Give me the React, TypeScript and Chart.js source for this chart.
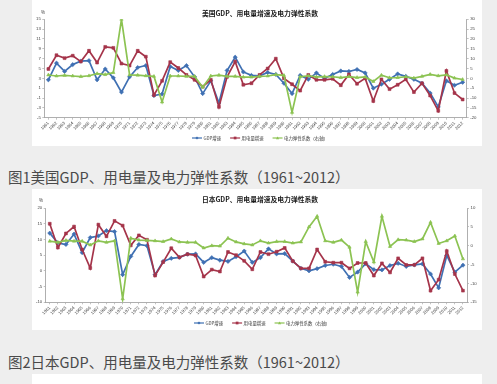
import React, { useEffect, useRef } from "react";
import { Chart, registerables } from "chart.js";

Chart.register(...registerables);

// ---------- data ----------
const years = [
  "1961", "1962", "1963", "1964", "1965", "1966", "1967", "1968", "1969", "1970",
  "1971", "1972", "1973", "1974", "1975", "1976", "1977", "1978", "1979", "1980",
  "1981", "1982", "1983", "1984", "1985", "1986", "1987", "1988", "1989", "1990",
  "1991", "1992", "1993", "1994", "1995", "1996", "1997", "1998", "1999", "2000",
  "2001", "2002", "2003", "2004", "2005", "2006", "2007", "2008", "2009", "2010",
  "2011", "2012",
];

const seriesNames = ["GDP增速", "用电量增速", "电力弹性系数（右轴）"];

// US (figure 1)
const usGdp = [
  2.7, 6.1, 4.4, 5.8, 6.5, 6.6, 2.7, 4.9, 3.1, 0.2,
  3.3, 5.2, 5.6, -0.5, -0.2, 5.4, 4.6, 5.6, 3.3, -0.1,
  2.5, -2.0, 4.6, 7.3, 4.3, 3.6, 3.5, 4.2, 3.8, 2.0,
  -0.1, 3.6, 2.8, 4.1, 3.0, 3.8, 4.5, 4.4, 4.8, 4.1,
  1.0, 1.8, 2.8, 3.9, 3.4, 2.8, 2.0, 0.0, -2.8, 2.5,
  1.6, 2.2,
];
const usElec = [
  4.9, 7.7, 7.1, 7.6, 6.4, 8.6, 6.2, 9.4, 9.2, 6.0,
  5.6, 8.6, 7.4, -0.4, 2.5, 6.3, 5.1, 3.7, 2.7, 1.3,
  2.7, -2.8, 3.3, 6.4, 1.7, 2.0, 3.7, 5.0, 7.0, 3.0,
  1.8, 0.5, 3.7, 2.7, 2.7, 2.9, 1.6, 3.8, 1.9, 3.0,
  -1.6, 2.8, 0.8, 1.7, 2.8, 0.2, 2.0, -0.5, -3.6, 4.5,
  0.0, -1.3,
];
const usElas = [
  1.7, 1.2, 1.5, 1.2, 0.9, 1.3, 2.4, 1.9, 2.9, 30,
  1.7, 1.6, 1.3, 1.0, -12.0, 1.2, 1.2, 1.0, 1.0, -4.5,
  1.2, 1.6, 1.0, 1.0, 0.6, 0.6, 1.0, 1.2, 1.9, 1.5,
  -17.3, 0.8, 1.3, 0.7, 0.9, 0.8, 0.4, 0.9, 0.4, 0.7,
  -1.6, 1.6, 0.3, 0.4, 0.8, 0.1, 1.0, 2.0, 1.3, 1.8,
  0.1, -0.6,
];
const usLeftTicks = [-5, -3, -1, 1, 3, 5, 7, 9, 11, 13, 15];
const usRightTicks = [-20, -15, -10, -5, 0, 5, 10, 15, 20, 25, 30];

// Japan (figure 2)
const jpGdp = [
  12.0, 8.9, 8.4, 11.7, 5.8, 10.6, 11.1, 12.8, 12.5, -1.2,
  4.6, 8.4, 8.0, -1.2, 3.0, 4.0, 4.3, 5.3, 5.4, 2.7,
  4.2, 3.4, 3.0, 4.5, 6.3, 2.7, 4.2, 7.0, 5.4, 5.5,
  3.1, 0.8, 0.0, 0.7, 1.7, 2.1, 1.4, -2.1, -0.4, 2.3,
  0.4, 0.3, 1.7, 2.4, 1.4, 1.9, 2.2, -1.0, -5.4, 4.9,
  -0.4, 1.8,
];
const jpElec = [
  15.0, 7.4, 11.9, 14.1, 6.8, 0.9, 14.7, 11.0, 15.9, 14.4,
  8.1, 11.3, 9.9, -1.5, 2.8, 7.2, 4.3, 5.3, 4.9, -1.8,
  0.4, -0.2, 6.0, 5.0, 3.2, 0.5, 6.0, 5.3, 6.1, 7.3,
  3.1, 0.8, 0.8, 6.8, 2.9, 2.6, 2.6, 0.8, 2.5, 2.5,
  -1.5, 2.4, -0.5, 4.0, 1.9, 1.9, 4.0, -6.3, -2.8, 6.3,
  -1.0, -6.3,
];
const jpElas = [
  1.2, 0.9, 1.4, 1.2, 1.2, 0.2, 1.3, 0.9, 1.3, -14.1,
  2.0, 1.5, 1.4, 1.3, 1.1, 1.8, 1.0, 0.9, 0.9, -0.6,
  0.0, -0.1, 2.0, 1.0, 0.5, 0.2, 1.3, 0.7, 1.1, 1.1,
  0.7, 1.0, 5.0, 7.8, 1.3, 0.9, 1.5, -0.4, -12.3, 1.1,
  -4.3, 7.8, -0.2, 1.6, 1.5, 1.1, 1.8, 6.2, 0.6, 1.3,
  2.6, -3.5,
];
const jpLeftTicks = [-10, -5, 0, 5, 10, 15, 20];
const jpRightTicks = [-15, -10, -5, 0, 5, 10];

const usTitle = "美国GDP、用电量增速及电力弹性系数";
const jpTitle = "日本GDP、用电量增速及电力弹性系数";
const caption1 = "图1美国GDP、用电量及电力弹性系数（1961~2012）";
const caption2 = "图2日本GDP、用电量及电力弹性系数（1961~2012）";
const unitLabel = "%";

// ---------- styles ----------
const BLUE = "#3F70B3";
const RED = "#A5344A";
const GREEN = "#8CC352";
const AXIS = "#9a9a9a";
const TICK = "#444";
const CJK = '"Noto Sans CJK SC", "Noto Sans", sans-serif';
const TICK_FONT = '"Liberation Sans", "DejaVu Sans", sans-serif';

function drawMarker(ctx: CanvasRenderingContext2D, style: string, x: number, y: number, r: number, color: string) {
  ctx.fillStyle = color;
  ctx.beginPath();
  if (style === "rectRot") {
    ctx.moveTo(x, y - r); ctx.lineTo(x + r, y); ctx.lineTo(x, y + r); ctx.lineTo(x - r, y);
  } else if (style === "triangle") {
    ctx.moveTo(x, y - r); ctx.lineTo(x + r, y + r * 0.8); ctx.lineTo(x - r, y + r * 0.8);
  } else {
    ctx.rect(x - r * 0.85, y - r * 0.85, r * 1.7, r * 1.7);
  }
  ctx.closePath();
  ctx.fill();
}

const overlayPlugin = {
  id: "overlay",
  afterDraw(chart: any, _args: any, opts: any) {
    const ctx: CanvasRenderingContext2D = chart.ctx;
    ctx.save();
    ctx.fillStyle = "#1a1a1a";
    ctx.textBaseline = "middle";
    ctx.textAlign = "center";
    ctx.font = `bold ${opts.titleSize}px ${CJK}`;
    ctx.fillText(opts.title, opts.titleX, opts.titleY);
    ctx.textAlign = "left";
    ctx.font = `4.5px ${TICK_FONT}`;
    ctx.fillStyle = TICK;
    ctx.fillText(unitLabel, opts.pctX, opts.pctY);
    // legend
    let x = opts.legendX;
    const y = opts.legendY;
    ctx.font = `4.4px ${CJK}`;
    chart.data.datasets.forEach((ds: any) => {
      ctx.strokeStyle = ds.borderColor;
      ctx.lineWidth = 1.2;
      ctx.beginPath();
      ctx.moveTo(x, y);
      ctx.lineTo(x + 10, y);
      ctx.stroke();
      drawMarker(ctx, ds.pointStyle, x + 5, y, 1.6, ds.borderColor);
      ctx.fillStyle = "#333";
      ctx.fillText(ds.label, x + 11.5, y + 0.3);
      x += 11.5 + ctx.measureText(ds.label).width + 9;
    });
    ctx.restore();
  },
};

type Props = {
  gdp: number[];
  elec: number[];
  elas: number[];
  leftTicks: number[];
  rightTicks: number[];
  title: string;
  width: number;
  height: number;
  plot: { left: number; right: number; top: number; bottom: number };
  overlay: any;
};

function ComboChart(p: Props) {
  const ref = useRef<HTMLCanvasElement>(null);
  useEffect(() => {
    const step = (t: number[]) => t[1] - t[0];
    const mk = (label: string, data: number[], color: string, style: string, axis: string, order: number, r: number) => ({
      label,
      data,
      yAxisID: axis,
      borderColor: color,
      backgroundColor: color,
      borderWidth: 1.7,
      pointStyle: style,
      pointRadius: r,
      pointBorderWidth: 0.6,
      pointBorderColor: color,
      pointBackgroundColor: color,
      tension: 0,
      order,
    });
    const tickFont = { size: 4.3, family: TICK_FONT };
    const chart = new Chart(ref.current as HTMLCanvasElement, {
      type: "line",
      data: {
        labels: years,
        datasets: [
          mk(seriesNames[0], p.gdp, BLUE, "rectRot", "y", 3, 2.1),
          mk(seriesNames[1], p.elec, RED, "rect", "y", 2, 2.0),
          mk(seriesNames[2], p.elas, GREEN, "triangle", "y1", 1, 1.9),
        ],
      },
      options: {
        animation: false,
        responsive: false,
        maintainAspectRatio: false,
        layout: { padding: { top: p.plot.top, left: 0, right: 0, bottom: 0 } },
        plugins: {
          legend: { display: false },
          tooltip: { enabled: false },
          title: { display: false },
          overlay: { ...p.overlay, title: p.title },
        } as any,
        scales: {
          x: {
            type: "category",
            offset: true,
            grid: { display: true, drawOnChartArea: false, drawTicks: true, tickLength: 2, color: AXIS, lineWidth: 0.6 },
            border: { display: true, color: AXIS, width: 0.8 },
            ticks: { autoSkip: false, maxRotation: 45, minRotation: 45, font: tickFont, color: TICK, padding: 1 },
            afterFit: (s: any) => { s.height = p.height - p.plot.bottom; },
          },
          y: {
            position: "left",
            min: p.leftTicks[0],
            max: p.leftTicks[p.leftTicks.length - 1],
            grid: { display: true, drawOnChartArea: false, drawTicks: true, tickLength: 2, color: AXIS, lineWidth: 0.6 },
            border: { display: true, color: AXIS, width: 0.8 },
            ticks: { stepSize: step(p.leftTicks), font: tickFont, color: TICK, padding: 1.5 },
            afterFit: (s: any) => { s.width = p.plot.left; },
          },
          y1: {
            position: "right",
            min: p.rightTicks[0],
            max: p.rightTicks[p.rightTicks.length - 1],
            grid: { display: true, drawOnChartArea: false, drawTicks: true, tickLength: 2, color: AXIS, lineWidth: 0.6 },
            border: { display: true, color: AXIS, width: 0.8 },
            ticks: { stepSize: step(p.rightTicks), font: tickFont, color: TICK, padding: 1.5 },
            afterFit: (s: any) => { s.width = p.width - p.plot.right; },
          },
        },
      } as any,
      plugins: [overlayPlugin as any],
    });
    return () => chart.destroy();
  }, []);
  return (
    <canvas
      ref={ref}
      width={p.width}
      height={p.height}
      style={{ display: "block", width: p.width, height: p.height }}
    />
  );
}

const captionStyle: React.CSSProperties = {
  position: "absolute",
  left: 8,
  fontFamily: CJK,
  fontSize: 14.5,
  lineHeight: "20px",
  color: "#4a4a4a",
  whiteSpace: "nowrap",
};

export default function App() {
  return (
    <div
      style={{
        position: "fixed",
        left: 0,
        top: 0,
        width: 497,
        height: 384,
        background: "#eeeeee",
        overflow: "hidden",
      }}
    >
      <div style={{ position: "absolute", left: 32, top: 0, width: 450, height: 146, background: "#fff" }}>
        <ComboChart
          gdp={usGdp}
          elec={usElec}
          elas={usElas}
          leftTicks={usLeftTicks}
          rightTicks={usRightTicks}
          title={usTitle}
          width={450}
          height={146}
          plot={{ left: 12.3, right: 434.7, top: 19.3, bottom: 117.7 }}
          overlay={{ titleSize: 6.8, titleX: 228, titleY: 13, pctX: 9, pctY: 13, legendX: 160, legendY: 138 }}
        />
      </div>
      <div style={{ ...captionStyle, top: 167 }}>{caption1}</div>
      <div style={{ position: "absolute", left: 32, top: 189, width: 450, height: 141, background: "#fff" }}>
        <ComboChart
          gdp={jpGdp}
          elec={jpElec}
          elas={jpElas}
          leftTicks={jpLeftTicks}
          rightTicks={jpRightTicks}
          title={jpTitle}
          width={450}
          height={141}
          plot={{ left: 13.7, right: 435, top: 19, bottom: 113.3 }}
          overlay={{ titleSize: 6.8, titleX: 228, titleY: 10, pctX: 7, pctY: 11.6, legendX: 162, legendY: 134 }}
        />
      </div>
      <div style={{ ...captionStyle, top: 352 }}>{caption2}</div>
      <div style={{ position: "absolute", left: 32, top: 374, width: 450, height: 20, background: "#fff" }} />
    </div>
  );
}
